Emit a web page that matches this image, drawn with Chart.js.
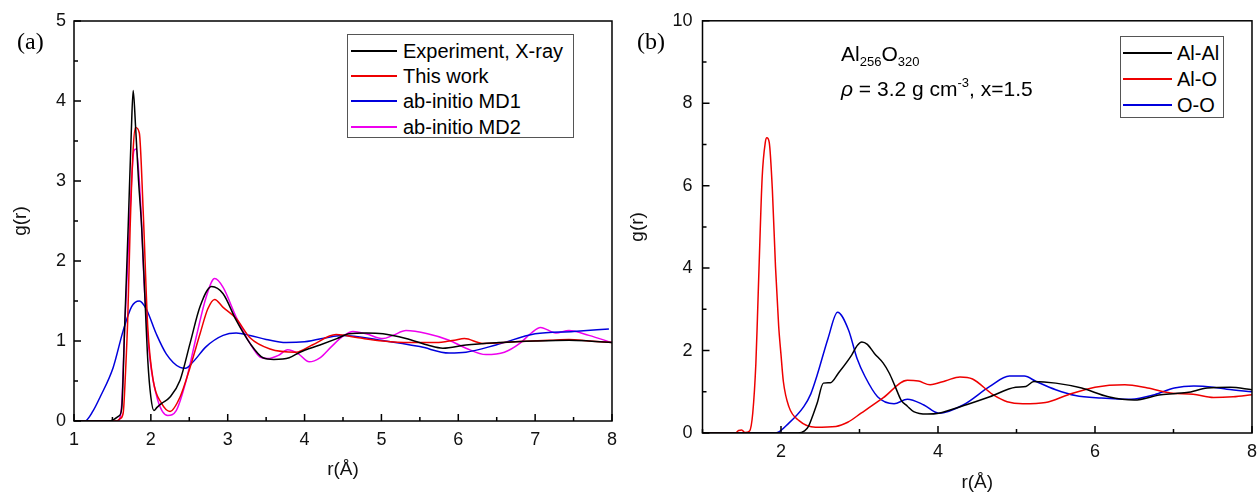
<!DOCTYPE html>
<html>
<head>
<meta charset="utf-8">
<script src="https://cdn.jsdelivr.net/npm/chart.js@4/dist/chart.umd.min.js"></script>
<style>
  html, body { margin:0; padding:0; width:1258px; height:495px; overflow:hidden; background:#fff; }
  body { position:relative; font-family:"Liberation Sans", Arial, sans-serif; color:#000; }
  .wrap { position:absolute; top:0; height:495px; }
  .panel-label { position:absolute; font-family:"Liberation Serif","Times New Roman",serif; font-size:24px; line-height:1; }
  .legend { position:absolute; border:1px solid #555; background:#fff; box-sizing:border-box; }
  .legend .item { position:absolute; left:0; height:20px; font-size:20px; line-height:20px; white-space:nowrap; }
  .legend .swatch { position:absolute; height:0; border-top:2px solid #000; }
  .legend .txt { position:absolute; top:0; }
  .note { position:absolute; font-size:21px; line-height:1; white-space:nowrap; }
  .note sub { font-size:13px; vertical-align:-5px; }
  .note sup { font-size:13px; vertical-align:9px; }
</style>
</head>
<body>
<div class="wrap" style="left:0;width:625px;"><canvas id="ca" width="625" height="495"></canvas></div>
<div class="wrap" style="left:620px;width:645px;"><canvas id="cb" width="645" height="495"></canvas></div>
<div class="panel-label" style="left:17px;top:29px;">(a)</div>
<div class="panel-label" style="left:637px;top:29px;">(b)</div>
<div class="note" style="left:841px;top:43px;">Al<sub>256</sub>O<sub>320</sub></div>
<div class="note" style="left:841px;top:76px;"><i>ρ</i> = 3.2 g cm<sup>-3</sup>, x=1.5</div>
<div id="lega" class="legend" style="left:347px;top:34px;width:227px;height:104px;"></div>
<div id="legb" class="legend" style="left:1120px;top:36px;width:104px;height:82px;"></div>
<script>
// ---------------- Panel (a): total g(r) ----------------
const xTicksA = [1, 2, 3, 4, 5, 6, 7, 8];
const xMinorA = [1.5, 2.5, 3.5, 4.5, 5.5, 6.5, 7.5];
const yTicksA = [0, 1, 2, 3, 4, 5];
const yMinorA = [0.5, 1.5, 2.5, 3.5, 4.5];

const expXray = [[1,0],[1.45,0],[1.52,0.02],[1.58,0.06],[1.62,0.15],[1.66,1.2],[1.705,2.43],[1.745,3.6],[1.77,4.13],[1.80,3.7],[1.84,3.0],[1.88,2.43],[1.92,1.6],[1.96,0.76],[2.0,0.3],[2.04,0.13],[2.08,0.17],[2.14,0.22],[2.25,0.30],[2.38,0.51],[2.51,0.97],[2.64,1.43],[2.79,1.68],[2.94,1.59],[3.11,1.26],[3.29,0.97],[3.46,0.79],[3.6,0.77],[3.8,0.79],[3.94,0.86],[4.2,0.95],[4.42,1.03],[4.58,1.09],[4.8,1.10],[5.02,1.09],[5.32,1.03],[5.6,0.95],[5.8,0.91],[6.1,0.95],[6.53,0.98],[7.0,1.0],[7.44,1.01],[7.7,1.0],[8.0,0.98]];
const thisWork = [[1,0],[1.55,0],[1.6,0.03],[1.64,0.1],[1.67,0.6],[1.70,1.3],[1.73,2.4],[1.77,3.4],[1.80,3.67],[1.85,3.6],[1.90,2.63],[1.96,1.17],[2.03,0.51],[2.14,0.22],[2.25,0.12],[2.38,0.30],[2.51,0.67],[2.64,1.09],[2.74,1.40],[2.83,1.52],[2.94,1.42],[3.11,1.28],[3.29,1.04],[3.55,0.90],[3.89,0.86],[4.1,0.95],[4.41,1.08],[4.7,1.04],[5.02,1.0],[5.35,0.98],[5.71,0.98],[5.95,1.01],[6.08,1.03],[6.32,0.97],[6.74,0.99],[7.2,1.01],[7.44,1.02],[7.7,1.0],[8.0,0.98]];
const abInitioMD1 = [[1,0],[1.14,0],[1.25,0.13],[1.34,0.30],[1.51,0.67],[1.64,1.13],[1.75,1.43],[1.85,1.50],[1.94,1.40],[2.07,1.09],[2.20,0.84],[2.38,0.67],[2.45,0.66],[2.55,0.74],[2.72,0.93],[2.94,1.07],[3.11,1.10],[3.29,1.07],[3.5,1.02],[3.76,0.98],[4.0,0.99],[4.5,1.07],[4.99,1.01],[5.5,0.93],[5.88,0.85],[6.1,0.86],[6.49,0.95],[7.0,1.09],[7.5,1.12],[7.96,1.15]];
const abInitioMD2 = [[1,0],[1.57,0],[1.62,0.2],[1.66,1.18],[1.70,2.0],[1.73,2.63],[1.78,3.38],[1.81,3.4],[1.86,2.84],[1.92,1.59],[1.99,0.76],[2.09,0.26],[2.22,0.07],[2.33,0.13],[2.46,0.51],[2.59,1.05],[2.72,1.55],[2.83,1.78],[2.94,1.67],[3.11,1.30],[3.29,0.97],[3.42,0.80],[3.52,0.78],[3.66,0.82],[3.78,0.89],[3.92,0.84],[4.06,0.74],[4.2,0.79],[4.35,0.93],[4.5,1.06],[4.63,1.12],[4.8,1.09],[5.02,1.03],[5.15,1.07],[5.32,1.13],[5.6,1.09],[5.88,1.01],[6.1,0.91],[6.36,0.83],[6.6,0.86],[6.8,0.97],[6.95,1.10],[7.07,1.17],[7.27,1.10],[7.44,1.13],[7.7,1.07],[8.0,0.98]];
const seriesNamesA = ["Experiment, X-ray", "This work", "ab-initio MD1", "ab-initio MD2"];
const seriesColorsA = ["#000000", "#ee0000", "#0000dd", "#ee00ee"];

// ---------------- Panel (b): partial g(r) ----------------
const xTicksB = [2, 4, 6, 8];
const xMinorB = [1, 3, 5, 7];
const yTicksB = [0, 2, 4, 6, 8, 10];
const yMinorB = [1, 3, 5, 7, 9];

const alAl = [[1,0],[2.22,0],[2.3,0.05],[2.35,0.16],[2.41,0.45],[2.46,0.72],[2.54,1.21],[2.63,1.22],[2.73,1.45],[2.9,1.89],[2.97,2.12],[3.03,2.21],[3.10,2.15],[3.19,1.93],[3.30,1.7],[3.38,1.45],[3.45,1.15],[3.53,0.80],[3.61,0.65],[3.69,0.52],[3.86,0.46],[4.01,0.48],[4.32,0.66],[4.66,0.88],[4.99,1.11],[5.12,1.13],[5.22,1.25],[5.5,1.21],[5.83,1.09],[6.17,0.88],[6.5,0.80],[6.84,0.93],[7.17,0.98],[7.43,1.09],[7.72,1.11],[8,1.05]];
const alO = [[1,0],[1.42,0],[1.46,0.06],[1.5,0.07],[1.54,0.01],[1.6,0.05],[1.64,0.48],[1.68,1.69],[1.70,2.8],[1.72,4.0],[1.76,6.2],[1.80,7.05],[1.82,7.16],[1.85,7.05],[1.89,5.9],[1.93,4.03],[1.97,2.6],[2.0,1.9],[2.03,1.25],[2.1,0.64],[2.23,0.3],[2.44,0.14],[2.7,0.16],[2.85,0.26],[3.02,0.48],[3.3,0.85],[3.61,1.28],[3.75,1.26],[3.9,1.17],[4.1,1.27],[4.28,1.36],[4.44,1.31],[4.70,0.93],[4.88,0.76],[5.08,0.71],[5.37,0.74],[5.66,0.93],[6.0,1.11],[6.38,1.17],[6.67,1.09],[6.96,0.97],[7.25,0.94],[7.51,0.86],[7.76,0.88],[8,0.93]];
const oO = [[1,0],[1.93,0],[2.1,0.24],[2.29,0.64],[2.38,0.95],[2.46,1.4],[2.6,2.3],[2.72,2.93],[2.86,2.5],[2.97,1.8],[3.07,1.37],[3.23,0.88],[3.44,0.71],[3.61,0.82],[3.82,0.68],[4.01,0.48],[4.32,0.68],[4.66,1.13],[4.91,1.38],[5.1,1.38],[5.25,1.25],[5.5,1.05],[5.75,0.91],[6.08,0.85],[6.46,0.82],[6.76,0.93],[7.01,1.09],[7.26,1.14],[7.51,1.11],[7.68,1.06],[8,1.0]];
const seriesNamesB = ["Al-Al", "Al-O", "O-O"];
const seriesColorsB = ["#000000", "#ee0000", "#0000dd"];

const toXY = arr => arr.map(p => ({x: p[0], y: p[1]}));

const frameTicks = {
  id: 'frameTicks',
  afterDatasetsDraw(chart, args, o) {
    const {ctx, chartArea: {left, right, top, bottom}, scales: {x, y}} = chart;
    ctx.save();
    ctx.strokeStyle = '#000';
    ctx.lineWidth = 1.5;
    ctx.beginPath();
    const seg = (x1, y1, x2, y2) => { ctx.moveTo(x1, y1); ctx.lineTo(x2, y2); };
    o.xMajor.forEach(v => { const p = x.getPixelForValue(v); seg(p, bottom, p, bottom - 7); });
    o.xMinor.forEach(v => { const p = x.getPixelForValue(v); seg(p, bottom, p, bottom - 4); });
    o.yMajor.forEach(v => { const p = y.getPixelForValue(v); seg(left, p, left + 7, p); });
    o.yMinor.forEach(v => { const p = y.getPixelForValue(v); seg(left, p, left + 4, p); });
    ctx.stroke();
    ctx.strokeRect(left, top, right - left, bottom - top);
    ctx.restore();
  }
};

function makeChart(id, cfg) {
  const datasets = cfg.series.map((s, i) => ({
    label: cfg.names[i],
    data: toXY(s),
    borderColor: cfg.colors[i],
    borderWidth: 1.5,
    pointRadius: 0,
    fill: false,
    cubicInterpolationMode: 'monotone'
  }));
  return new Chart(document.getElementById(id), {
    type: 'line',
    data: {datasets},
    plugins: [frameTicks],
    options: {
      responsive: false,
      animation: false,
      events: [],
      layout: {padding: cfg.padding},
      plugins: {
        legend: {display: false},
        tooltip: {enabled: false},
        frameTicks: {xMajor: cfg.xTicks, xMinor: cfg.xMinor, yMajor: cfg.yTicks, yMinor: cfg.yMinor}
      },
      scales: {
        x: {
          type: 'linear', min: cfg.xMin, max: cfg.xMax,
          grid: {display: false, drawTicks: false},
          border: {display: false},
          afterBuildTicks: s => { s.ticks = cfg.xTicks.map(v => ({value: v})); },
          afterFit: s => { s.height = cfg.xHeight; },
          ticks: {color: '#111', padding: 8, maxRotation: 0, autoSkip: false,
                  font: {family: '"Liberation Sans", Arial, sans-serif', size: 18}},
          title: {display: true, text: 'r(Å)', color: '#111', padding: {top: cfg.xTitlePad, bottom: cfg.xTitlePad},
                  font: {family: '"Liberation Sans", Arial, sans-serif', size: 19}}
        },
        y: {
          type: 'linear', min: cfg.yMin, max: cfg.yMax,
          grid: {display: false, drawTicks: false},
          border: {display: false},
          afterBuildTicks: s => { s.ticks = cfg.yTicks.map(v => ({value: v})); },
          afterFit: s => { s.width = cfg.yWidth; },
          ticks: {color: '#111', padding: cfg.yTickPad, autoSkip: false,
                  font: {family: '"Liberation Sans", Arial, sans-serif', size: 18}},
          title: {display: true, text: 'g(r)', color: '#111', padding: {top: cfg.yTitlePad, bottom: cfg.yTitlePad},
                  font: {family: '"Liberation Sans", Arial, sans-serif', size: 19}}
        }
      }
    }
  });
}

const chartA = makeChart('ca', {
  series: [expXray, thisWork, abInitioMD1, abInitioMD2],
  names: seriesNamesA, colors: seriesColorsA,
  xMin: 1, xMax: 8, yMin: 0, yMax: 5,
  xTicks: xTicksA, xMinor: xMinorA, yTicks: yTicksA, yMinor: yMinorA,
  padding: {left: 0, top: 21, right: 13, bottom: 0},
  yWidth: 74, xHeight: 74, yTickPad: 8, yTitlePad: 9.6, xTitlePad: 13.6
});
const chartB = makeChart('cb', {
  series: [alAl, alO, oO],
  names: seriesNamesB, colors: seriesColorsB,
  xMin: 1, xMax: 8, yMin: 0, yMax: 10,
  xTicks: xTicksB, xMinor: xMinorB, yTicks: yTicksB, yMinor: yMinorB,
  padding: {left: 0, top: 19, right: 6, bottom: 0},
  yWidth: 82.5, xHeight: 62, yTickPad: 10, yTitlePad: 6.6, xTitlePad: 0.6
});

function buildLegend(elId, chart, rowYs, lineX, lineW, textX) {
  const box = document.getElementById(elId);
  chart.data.datasets.forEach((ds, i) => {
    const item = document.createElement('div');
    item.className = 'item';
    item.style.top = (rowYs[i] - 10) + 'px';
    const sw = document.createElement('div');
    sw.className = 'swatch';
    sw.style.left = lineX + 'px';
    sw.style.width = lineW + 'px';
    sw.style.top = '9px';
    sw.style.borderTopColor = ds.borderColor;
    const tx = document.createElement('div');
    tx.className = 'txt';
    tx.style.left = textX + 'px';
    tx.textContent = ds.label;
    item.appendChild(sw); item.appendChild(tx);
    box.appendChild(item);
  });
}
buildLegend('lega', chartA, [16, 41, 66, 92], 3, 46, 55);
buildLegend('legb', chartB, [16, 42, 68], 2, 49, 56);
</script>
</body>
</html>
